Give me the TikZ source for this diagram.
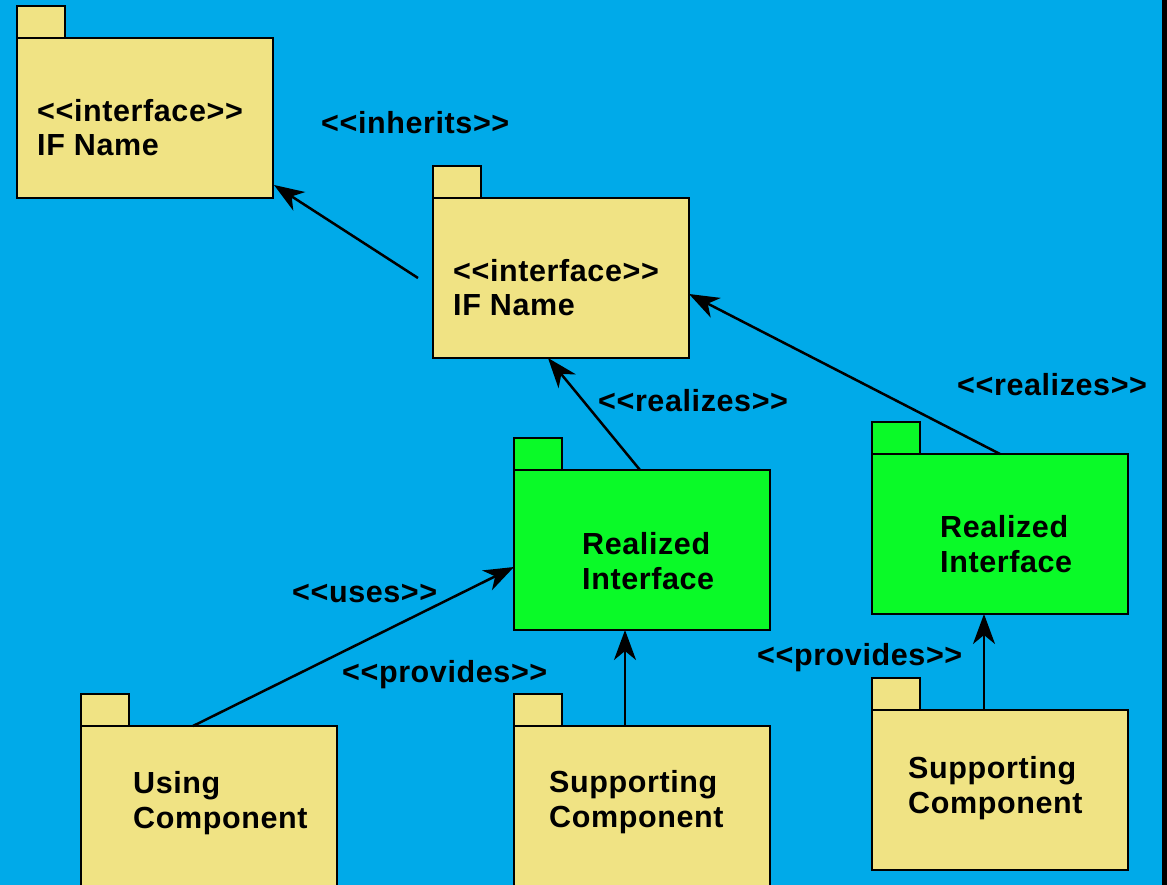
\documentclass[tikz,border=0pt]{standalone}
\usepackage{fontspec}
\newfontfamily\diafont{Liberation Sans Bold}[LetterSpace=2]
\usetikzlibrary{arrows.meta,calc}
\definecolor{bgblue}{RGB}{0,170,233}
\definecolor{pkgyellow}{RGB}{240,227,132}
\definecolor{pkggreen}{RGB}{10,250,40}
\tikzset{
  pkgbody/.style={draw=black,line width=2.5pt,minimum width=256pt,minimum height=160pt,inner sep=0pt,outer sep=0pt},
  pkgtab/.style={draw=black,line width=2.5pt,minimum width=48pt,minimum height=32pt,inner sep=0pt,outer sep=0pt,anchor=south west},
  boxtext/.style={anchor=base west,inner sep=0pt,align=left,font=\diafont\fontsize{30.5}{34.5}\selectfont},
  lbl/.style={anchor=base west,inner sep=0pt,font=\diafont\fontsize{30.5}{34.5}\selectfont},
  conn/.style={line width=2.5pt,-{Stealth[length=30pt,width=22pt,inset=9pt]}},
}
\begin{document}
\begin{tikzpicture}[x=1pt,y=-1pt]
\useasboundingbox (0,0) rectangle (1167,885);
\clip (0,0) rectangle (1167,885);
\fill[bgblue] (0,0) rectangle (1167,885);
\fill[black] (1162,0) rectangle (1167,885);

% package bodies
\node[pkgbody,fill=pkgyellow] (b1) at (145,118) {};
\node[pkgbody,fill=pkgyellow] (b2) at (561,278) {};
\node[pkgbody,fill=pkggreen] (b3) at (642,550) {};
\node[pkgbody,fill=pkggreen] (b4) at (1000,534) {};
\node[pkgbody,fill=pkgyellow] (b5) at (209,806) {};
\node[pkgbody,fill=pkgyellow] (b6) at (642,806) {};
\node[pkgbody,fill=pkgyellow] (b7) at (1000,790) {};

% tabs
\node[pkgtab,fill=pkgyellow] (t1) at (b1.north west) {};
\node[pkgtab,fill=pkgyellow] (t2) at (b2.north west) {};
\node[pkgtab,fill=pkggreen] (t3) at (b3.north west) {};
\node[pkgtab,fill=pkggreen] (t4) at (b4.north west) {};
\node[pkgtab,fill=pkgyellow] (t5) at (b5.north west) {};
\node[pkgtab,fill=pkgyellow] (t6) at (b6.north west) {};
\node[pkgtab,fill=pkgyellow] (t7) at (b7.north west) {};

% box texts (anchor at baseline of last line)
\node[boxtext] (x1) at (37,156) {<<interface>>\\IF Name};
\node[boxtext] (x2) at (453,316) {<<interface>>\\IF Name};
\node[boxtext] (x3) at (582,589) {Realized\\Interface};
\node[boxtext] (x4) at (940,572) {Realized\\Interface};
\node[boxtext] (x5) at (133,828) {Using\\Component};
\node[boxtext] (x6) at (549,827) {Supporting\\Component};
\node[boxtext] (x7) at (908,813) {Supporting\\Component};

% labels
\node[lbl] (l1) at (321,134) {<<inherits>>};
\node[lbl] (l2) at (598,411) {<<realizes>>};
\node[lbl] (l3) at (957,395) {<<realizes>>};
\node[lbl] (l4) at (292,602) {<<uses>>};
\node[lbl] (l5) at (342,682) {<<provides>>};
\node[lbl] (l6) at (757,665) {<<provides>>};

% connector ends
\coordinate (s1) at ($(b2.west)+(-15,0)$);
\coordinate (e1) at ($(b1.south east)+(1,-13)$);
\coordinate (s2) at ($(b3.north west)+(126,0)$);
\coordinate (e2) at ($(b2.south west)+(115,0)$);
\coordinate (e3) at ($(b2.east)+(0,16)$);
\coordinate (s4) at ($(b5.north west)+(112,0)$);
\coordinate (e4) at ($(b3.west)+(0,17)$);
\coordinate (s5) at ($(b6.north west)+(111,0)$);
\coordinate (e5) at ($(b3.south west)+(111,0)$);
\coordinate (s6) at ($(b7.north west)+(112,0)$);
\coordinate (e6) at ($(b4.south west)+(112,0)$);

% connectors
\draw[conn] (s1) -- (e1);
\draw[conn] (s2) -- (e2);
\draw[conn] (b4.north) -- (e3);
\draw[conn] (s4) -- (e4);
\draw[conn] (s5) -- (e5);
\draw[conn] (s6) -- (e6);
\end{tikzpicture}
\end{document}
